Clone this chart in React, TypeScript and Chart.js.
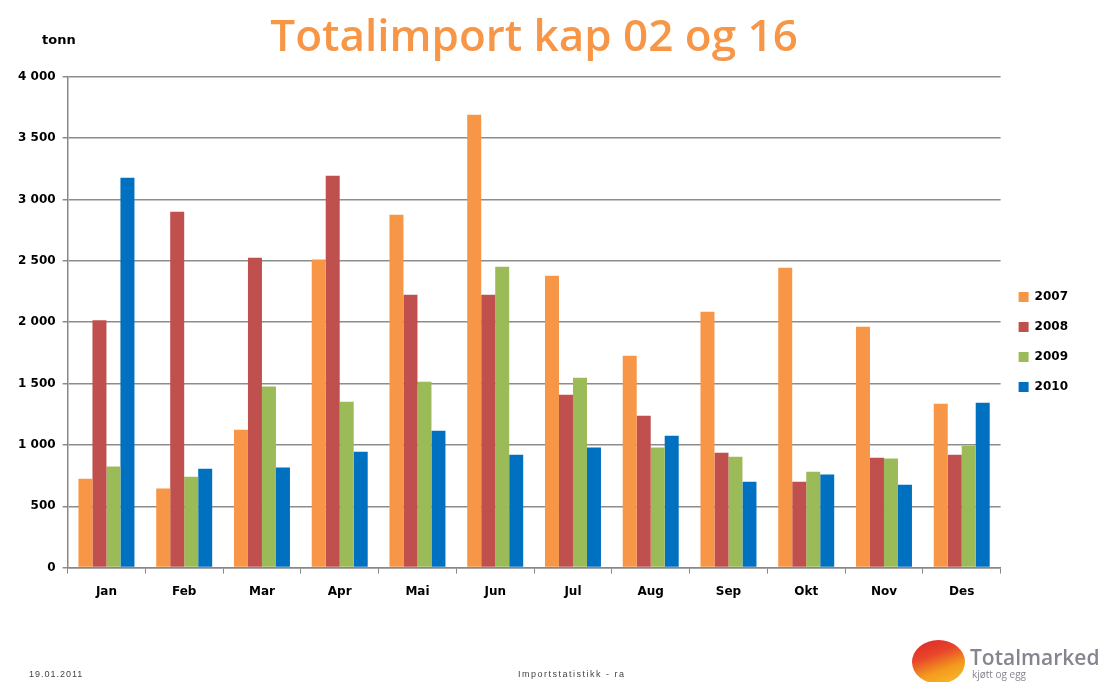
import React, { useEffect, useRef } from "react";
import { Chart, registerables } from "chart.js";

Chart.register(...registerables);

const months = ["Jan", "Feb", "Mar", "Apr", "Mai", "Jun", "Jul", "Aug", "Sep", "Okt", "Nov", "Des"];
const years = ["2007", "2008", "2009", "2010"];
const v2007 = [725, 644, 1124, 2510, 2876, 3691, 2379, 1727, 2086, 2444, 1963, 1336];
const v2008 = [2015, 2900, 2526, 3194, 2224, 2224, 1409, 1238, 937, 700, 896, 920];
const v2009 = [823, 741, 1475, 1352, 1515, 2452, 1548, 978, 904, 782, 890, 994];
const v2010 = [3177, 806, 815, 945, 1116, 920, 978, 1075, 700, 758, 676, 1344];
const colors = ["#F79646", "#C0504D", "#9BBB59", "#0070C0"];
const yTicks = [0, 500, 1000, 1500, 2000, 2500, 3000, 3500, 4000];

const fmt = (v: number) => {
  const s = String(Math.round(v));
  return s.length > 3 ? s.slice(0, s.length - 3) + " " + s.slice(-3) : s;
};

const LEGEND_SHIFT = 31;

const shiftLegend = {
  id: "shiftLegend",
  afterLayout(chart: any) {
    const lg = chart.legend;
    if (lg) {
      lg.top += LEGEND_SHIFT;
      lg.bottom += LEGEND_SHIFT;
    }
  },
};

const tickFont = { family: "DejaVu Sans", size: 12, weight: "bold" as const };

export default function App() {
  const ref = useRef<HTMLCanvasElement | null>(null);
  useEffect(() => {
    if (!ref.current) return;
    const series = [v2007, v2008, v2009, v2010];
    const chart = new Chart(ref.current, {
      type: "bar",
      data: {
        labels: months,
        datasets: years.map((y, i) => ({
          label: y,
          data: series[i],
          backgroundColor: colors[i],
          borderWidth: 0,
          barPercentage: 1.0,
          categoryPercentage: 0.72,
        })),
      },
      plugins: [shiftLegend],
      options: {
        responsive: false,
        animation: false,
        layout: { padding: { left: 11, right: 26, top: 12, bottom: 72 } },
        plugins: {
          title: {
            display: true,
            fullSize: false,
            text: "Totalimport kap 02 og 16",
            color: "#F79646",
            font: { family: "Open Sans", size: 44, weight: 600 },
            padding: { top: 0, bottom: 12 },
          },
          legend: {
            position: "right",
            align: "center",
            labels: {
              boxWidth: 10,
              boxHeight: 10,
              padding: 18,
              color: "#000",
              font: tickFont,
            },
          },
          tooltip: { enabled: false },
        },
        scales: {
          x: {
            grid: {
              offset: true,
              drawOnChartArea: false,
              drawTicks: true,
              tickLength: 6,
              color: "#888",
            },
            border: { color: "#888", width: 1.5 },
            ticks: {
              color: "#000",
              padding: 11,
              font: tickFont,
            },
          },
          y: {
            min: 0,
            max: 4000,
            afterBuildTicks: (axis: any) => {
              axis.ticks = yTicks.map((v) => ({ value: v }));
            },
            grid: { color: "#8c8c8c", lineWidth: 1.5, tickLength: 5 },
            border: { color: "#888", width: 1.5 },
            ticks: {
              color: "#000",
              padding: 7,
              font: tickFont,
              callback: (v: any) => fmt(Number(v)),
            },
          },
        },
      },
    });
    return () => chart.destroy();
  }, []);

  return (
    <div style={{ position: "fixed", left: 0, top: 0, width: 1104, height: 682, background: "#fff", fontFamily: "Liberation Sans, Arial, sans-serif" }}>
      <canvas ref={ref} width={1104} height={682} style={{ display: "block" }} />
      <div style={{ position: "absolute", left: 42, top: 32, fontSize: 13, fontWeight: "bold", color: "#000", fontFamily: "DejaVu Sans" }}>tonn</div>
      <div style={{ position: "absolute", left: 29, top: 669, fontSize: 9, letterSpacing: 1, color: "#444" }}>19.01.2011</div>
      <div style={{ position: "absolute", left: 518, top: 669, fontSize: 9, letterSpacing: 1.5, color: "#444" }}>Importstatistikk - ra</div>
      <div
        style={{
          position: "absolute",
          left: 912,
          top: 640,
          width: 53,
          height: 44,
          borderRadius: "50%",
          background: "linear-gradient(160deg, #D9262A 0%, #E8452B 35%, #F39A1E 65%, #F8C22A 100%)",
        }}
      />
      <div style={{ position: "absolute", left: 970, top: 643, fontSize: 21, fontWeight: 600, color: "#858590", fontFamily: "Open Sans" }}>Totalmarked</div>
      <div style={{ position: "absolute", left: 972, top: 667, fontSize: 10, color: "#858590", fontFamily: "Open Sans" }}>kjøtt og egg</div>
    </div>
  );
}
